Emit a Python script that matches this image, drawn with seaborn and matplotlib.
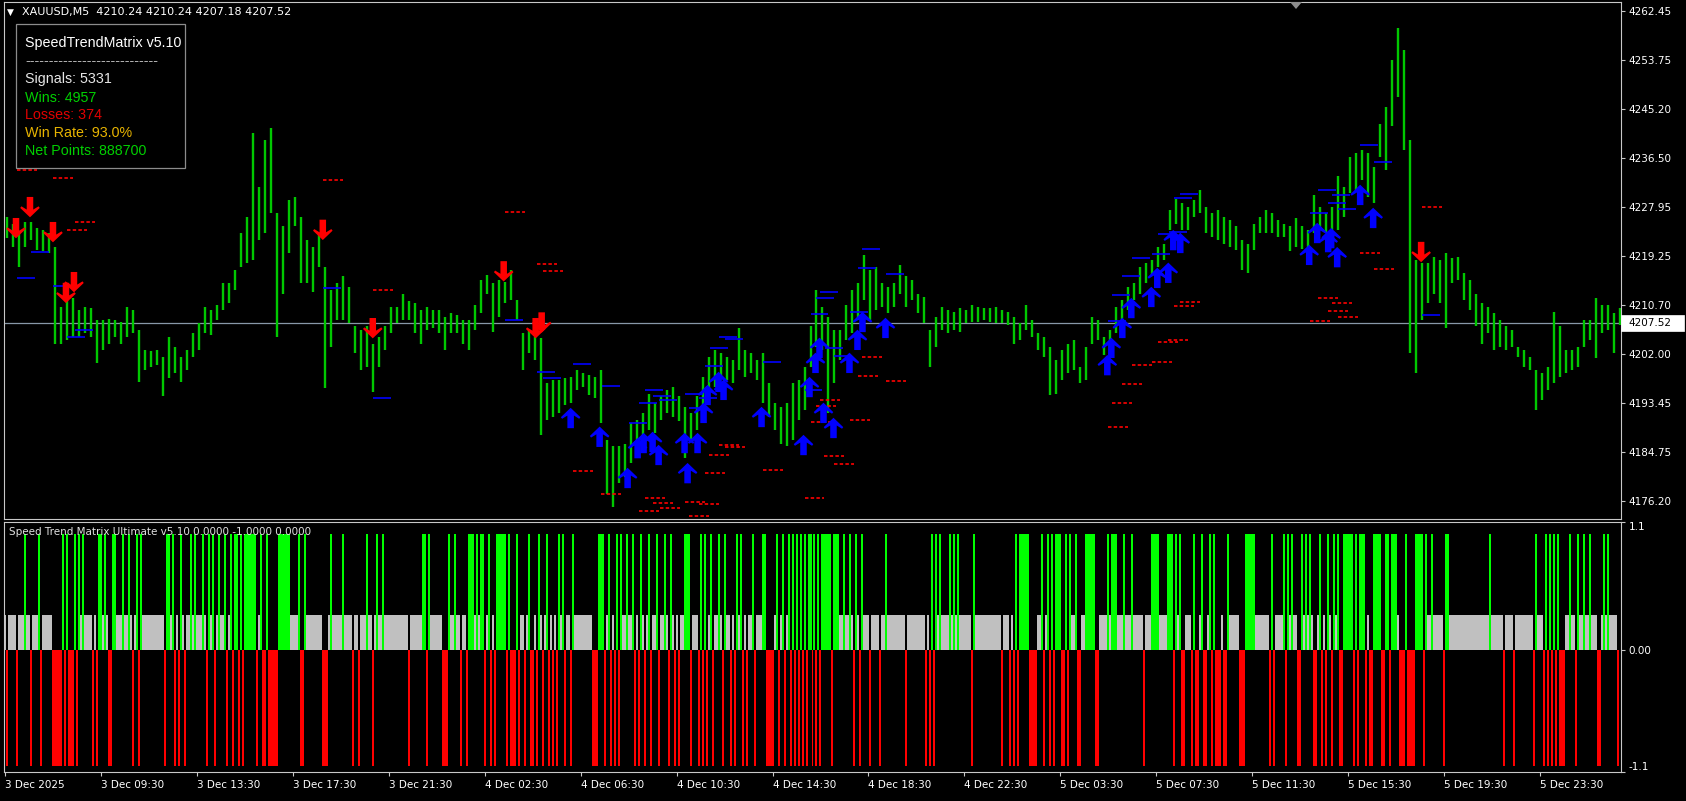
import numpy as np
import matplotlib
matplotlib.use("Agg")
import matplotlib.pyplot as plt
from matplotlib.path import Path
import matplotlib.patches as mpatches
import seaborn as sns

# ---------------- data ----------------
symbol_title = "XAUUSD,M5  4210.24 4210.24 4207.18 4207.52"
last_price = 4207.52

# 15-minute high / low ranges (each entry spans three M5 bars)
highs = [
    4226.2, 4225.0, 4223.3, 4225.3, 4225.3, 4224.2, 4223.9, 4223.3, 4220.9, 4210.4,
    4211.6, 4211.9, 4209.8, 4210.4, 4210.1, 4208.0, 4208.0, 4208.3, 4208.0, 4207.7,
    4210.4, 4209.8, 4206.3, 4202.8, 4202.5, 4202.8, 4201.6, 4205.1, 4203.3, 4201.6,
    4202.8, 4205.7, 4207.5, 4210.4, 4209.8, 4210.7, 4214.5, 4214.5, 4216.8, 4223.3,
    4226.2, 4240.9, 4231.5, 4239.7, 4241.8, 4226.8, 4224.5, 4229.2, 4229.7, 4226.2,
    4222.1, 4220.9, 4223.3, 4217.4, 4213.3, 4214.5, 4215.7, 4213.9, 4206.9, 4206.3,
    4206.9, 4203.9, 4205.1, 4206.9, 4210.4, 4210.4, 4212.7, 4211.3, 4211.0, 4209.8,
    4210.4, 4209.8, 4209.8, 4208.6, 4209.2, 4208.9, 4208.0, 4208.0, 4210.7, 4215.1,
    4216.0, 4214.5, 4215.1, 4214.8, 4216.8, 4211.6, 4205.7, 4206.3, 4205.1, 4204.8,
    4196.9, 4197.5, 4197.5, 4197.8, 4198.1, 4199.2, 4198.7, 4198.4, 4198.1, 4199.2,
    4186.9, 4185.8, 4185.8, 4186.3, 4189.9, 4190.4, 4191.6, 4195.1, 4193.4, 4194.6,
    4195.7, 4196.3, 4194.6, 4192.8, 4191.6, 4194.6, 4198.1, 4201.6, 4202.8, 4202.2,
    4201.6, 4201.0, 4206.6, 4202.8, 4202.2, 4201.0, 4202.2, 4196.9, 4193.4, 4192.8,
    4193.4, 4196.9, 4197.5, 4199.8, 4206.9, 4213.3, 4210.4, 4208.6, 4206.3, 4206.3,
    4210.7, 4213.3, 4214.5, 4219.5, 4216.8, 4217.4, 4214.5, 4213.9, 4214.5, 4217.7,
    4215.7, 4215.1, 4212.7, 4212.1, 4206.3, 4208.6, 4210.4, 4209.8, 4209.5, 4210.1,
    4209.8, 4210.7, 4210.4, 4210.1, 4210.1, 4210.4, 4209.8, 4209.5, 4208.6, 4207.5,
    4210.7, 4208.0, 4205.7, 4205.1, 4203.3, 4201.0, 4202.8, 4203.9, 4204.5, 4199.8,
    4203.3, 4208.6, 4208.0, 4205.1, 4206.3, 4210.4, 4211.6, 4213.9, 4214.5, 4217.4,
    4218.0, 4218.6, 4220.9, 4221.5, 4227.4, 4229.4, 4228.6, 4228.0, 4229.2, 4230.9,
    4228.0, 4226.8, 4227.4, 4226.2, 4225.6, 4224.5, 4222.1, 4221.5, 4225.0, 4226.2,
    4227.4, 4226.8, 4225.6, 4225.0, 4224.5, 4225.9, 4224.5, 4223.9, 4230.0, 4228.0,
    4226.8, 4228.0, 4233.3, 4231.5, 4236.8, 4237.4, 4237.9, 4237.4, 4235.0, 4242.6,
    4245.6, 4253.8, 4259.4, 4255.5, 4239.7, 4218.6, 4218.0, 4218.0, 4219.2, 4218.6,
    4219.8, 4218.9, 4219.2, 4216.3, 4215.1, 4212.7, 4211.0, 4210.4, 4209.2, 4208.0,
    4206.9, 4206.3, 4203.3, 4202.8, 4201.6, 4199.2, 4198.7, 4199.8, 4209.5, 4206.9,
    4202.8, 4202.8, 4203.3, 4208.0, 4208.0, 4211.9, 4210.7, 4210.7, 4209.2, 4210.24,
]
lows = [
    4222.4, 4220.9, 4217.4, 4220.9, 4222.1, 4220.4, 4220.1, 4219.8, 4203.9, 4203.9,
    4204.5, 4205.1, 4205.1, 4205.7, 4205.1, 4200.4, 4202.8, 4203.9, 4205.1, 4203.9,
    4205.1, 4205.7, 4197.2, 4199.2, 4199.8, 4200.1, 4194.6, 4197.8, 4198.7, 4197.2,
    4199.2, 4201.6, 4202.8, 4205.7, 4205.4, 4208.0, 4209.8, 4211.0, 4213.3, 4217.4,
    4218.0, 4218.6, 4222.1, 4223.3, 4226.8, 4205.1, 4212.7, 4219.8, 4224.5, 4214.5,
    4214.5, 4213.0, 4217.4, 4196.0, 4203.3, 4208.0, 4208.0, 4207.5, 4202.2, 4199.2,
    4199.8, 4195.4, 4199.8, 4202.8, 4205.7, 4207.5, 4208.0, 4208.0, 4205.7, 4203.9,
    4206.3, 4206.6, 4205.7, 4202.8, 4205.7, 4205.7, 4203.9, 4202.8, 4206.3, 4209.2,
    4212.7, 4206.0, 4208.6, 4211.0, 4211.6, 4208.0, 4199.2, 4202.2, 4201.0, 4187.8,
    4190.4, 4191.0, 4191.6, 4193.1, 4193.4, 4195.7, 4196.3, 4194.8, 4194.3, 4189.9,
    4177.5, 4175.2, 4179.3, 4180.5, 4182.8, 4185.2, 4187.5, 4188.7, 4188.1, 4190.4,
    4191.6, 4191.0, 4190.2, 4183.7, 4186.9, 4188.7, 4191.0, 4194.6, 4196.3, 4198.1,
    4197.5, 4196.9, 4199.2, 4198.1, 4198.7, 4197.5, 4193.4, 4191.0, 4188.7, 4186.3,
    4185.8, 4186.9, 4190.4, 4192.2, 4199.8, 4203.3, 4202.8, 4191.6, 4196.9, 4201.0,
    4204.5, 4205.7, 4208.0, 4211.6, 4208.0, 4209.8, 4210.4, 4209.2, 4210.4, 4212.7,
    4210.4, 4211.6, 4209.2, 4207.5, 4199.8, 4203.3, 4206.3, 4205.7, 4206.3, 4206.0,
    4207.5, 4207.7, 4207.7, 4208.0, 4207.7, 4207.5, 4207.5, 4207.2, 4203.9, 4204.5,
    4206.3, 4205.1, 4202.8, 4201.6, 4194.8, 4195.1, 4197.5, 4198.7, 4199.2, 4196.9,
    4197.5, 4203.9, 4204.5, 4201.9, 4202.2, 4205.7, 4206.9, 4209.8, 4211.6, 4212.7,
    4214.5, 4215.7, 4217.4, 4218.6, 4223.9, 4225.0, 4223.9, 4223.9, 4226.2, 4226.8,
    4223.3, 4222.7, 4222.1, 4221.5, 4220.9, 4220.4, 4216.8, 4216.3, 4220.4, 4223.3,
    4223.3, 4223.3, 4222.7, 4222.7, 4220.1, 4220.9, 4220.6, 4220.9, 4223.3, 4223.9,
    4223.3, 4223.9, 4223.9, 4226.2, 4230.3, 4230.9, 4232.7, 4229.7, 4228.6, 4236.8,
    4234.4, 4242.1, 4247.3, 4237.9, 4202.2, 4198.8, 4208.0, 4211.0, 4212.7, 4211.0,
    4206.6, 4214.5, 4215.1, 4211.6, 4209.8, 4206.9, 4203.9, 4205.7, 4202.8, 4203.3,
    4202.8, 4203.3, 4201.6, 4199.8, 4199.2, 4192.2, 4194.0, 4195.7, 4196.9, 4198.1,
    4198.7, 4199.2, 4199.8, 4203.3, 4204.5, 4201.3, 4205.7, 4206.3, 4202.2, 4207.18,
]
bars_per_entry = 3
n_bars = 808

# sell / buy signal arrows (bar index, price)
sell_bar = [5.5, 12.5, 24, 30.5, 34.5, 159, 184, 249.5, 265.5, 268.5, 708.5]
sell_price = [4224.2, 4227.9, 4223.5, 4212.8, 4214.7, 4223.9, 4206.6, 4216.6, 4206.6, 4207.6, 4220.0]
buy_bar = [283, 297.5, 311.5, 316.5, 319.5, 324, 327, 340, 341.5, 346.5,
           349.5, 351.5, 357, 359.5, 378.5, 399.5, 402.5, 405.5, 407.5, 409.5,
           414.5, 422.5, 426.5, 429, 440.5, 551.5, 553.5, 559, 563.5, 573.5,
           576.5, 582, 584.5, 588, 652.5, 656.5, 662, 663.5, 666.5, 678, 684.5]
buy_price = [4190.8, 4187.5, 4180.25, 4185.5, 4186.4, 4186.6, 4184.3, 4186.4, 4181.1, 4186.4,
             4191.7, 4194.85, 4197.15, 4195.75, 4190.98, 4186.05, 4196.25, 4200.5, 4203.15, 4191.7,
             4189.05, 4200.5, 4204.55, 4207.7, 4206.65, 4200.1, 4203.15, 4206.65, 4210.15, 4212.1,
             4215.45, 4216.35, 4222.1, 4221.6, 4219.5, 4223.35, 4221.75, 4222.45, 4219.1, 4230.05, 4226.0]

# take-profit (blue) and stop-loss (red dashed) level segments
tp_bar = [6, 13, 24, 31, 35, 159, 184, 250, 266, 269, 284, 298.5, 312, 317, 320, 324, 327,
          340, 342, 347, 350, 352.5, 357, 360, 379, 400, 403, 406, 408, 410.5, 415, 423,
          427, 429, 441, 552, 554, 559, 564, 574, 577, 582.5, 585, 588, 653, 657, 662,
          664, 667, 678, 685, 709]
tp_price = [4215.4, 4220.0, 4214.0, 4205.05, 4206.3, 4213.7, 4194.3, 4208.0, 4198.9, 4197.8,
            4200.3, 4196.4, 4189.9, 4193.4, 4195.7, 4194.7, 4194.0, 4195.0, 4192.6, 4194.3,
            4199.95, 4203.1, 4205.05, 4204.7, 4200.65, 4195.7, 4209.1, 4211.9, 4213.0, 4203.1,
            4201.7, 4209.45, 4217.2, 4220.5, 4216.1, 4207.9, 4212.4, 4215.8, 4218.95, 4219.65,
            4223.2, 4223.5, 4229.5, 4230.2, 4226.9, 4230.9, 4228.6, 4230.0, 4227.6, 4238.8,
            4235.8, 4208.9]
sl_bar = [6, 24, 31, 35, 159, 184, 250, 266, 269, 284, 298, 317, 320, 324, 327.5, 340, 342,
          347, 350, 352, 357, 360, 379, 400, 403, 406, 408, 410, 415, 423, 427, 429, 441,
          552, 554, 559, 564, 574, 577, 582, 585, 588, 653, 657, 662, 664, 667, 678, 685, 709]
sl_price = [4234.4, 4233.0, 4223.9, 4225.3, 4232.7, 4213.3, 4227.0, 4217.9, 4216.7, 4181.5,
            4177.4, 4174.4, 4176.7, 4175.85, 4175.0, 4176.0, 4173.6, 4175.7, 4181.1, 4184.3,
            4186.05, 4185.7, 4181.65, 4176.7, 4190.1, 4192.9, 4194.0, 4184.1, 4182.7, 4190.45,
            4198.2, 4201.5, 4197.3, 4189.2, 4193.4, 4196.8, 4200.1, 4200.65, 4204.2, 4204.5,
            4210.5, 4211.2, 4207.9, 4211.9, 4209.6, 4211.0, 4208.6, 4219.8, 4217.0, 4227.9]
tp_len = 9
sl_len = 10

price_ticks = [4262.45, 4253.75, 4245.20, 4236.50, 4227.95, 4219.25, 4210.70,
               4202.00, 4193.45, 4184.75, 4176.20]

time_tick_bars = [0, 48, 96, 144, 192, 240, 288, 336, 384, 432, 480, 528, 576, 624, 672, 720, 768]
time_labels = ["3 Dec 2025", "3 Dec 09:30", "3 Dec 13:30", "3 Dec 17:30", "3 Dec 21:30",
               "4 Dec 02:30", "4 Dec 06:30", "4 Dec 10:30", "4 Dec 14:30", "4 Dec 18:30",
               "4 Dec 22:30", "5 Dec 03:30", "5 Dec 07:30", "5 Dec 11:30", "5 Dec 15:30",
               "5 Dec 19:30", "5 Dec 23:30"]

# indicator histogram states
green_bars = [10, 17, 29, 31, 35, 37, 39, 47, 48, 50, 54, 55, 59, 62, 66, 68, 81, 82, 84, 88,
              93, 95, 99, 102, 104, 107, 110, 113, 115, 116, 118, 120, 121, 122, 123, 124, 125,
              128, 131, 137, 138, 139, 140, 141, 142, 147, 150, 163, 169, 181, 186, 189, 209,
              210, 212, 222, 225, 232, 233, 234, 236, 238, 239, 242, 246, 247, 248, 249, 250,
              252, 256, 262, 267, 271, 277, 279, 284, 297, 298, 299, 302, 306, 308, 311, 314,
              318, 322, 326, 330, 333, 340, 341, 342, 348, 350, 353, 357, 360, 366, 368, 374,
              379, 380, 386, 389, 392, 394, 396, 398, 400, 402, 403, 405, 407, 409, 410, 411,
              412, 413, 415, 416, 417, 420, 423, 426, 429, 441, 464, 466, 468, 473, 475, 477,
              485, 506, 508, 509, 510, 511, 512, 519, 522, 524, 526, 527, 528, 531, 533, 536,
              541, 542, 543, 544, 545, 552, 554, 555, 556, 560, 564, 574, 575, 576, 577, 582,
              583, 584, 586, 588, 595, 599, 603, 605, 612, 621, 622, 623, 624, 625, 634, 640,
              642, 644, 649, 651, 653, 658, 662, 665, 667, 670, 671, 672, 673, 674, 676, 678,
              679, 680, 685, 686, 687, 688, 691, 692, 694, 695, 696, 701, 706, 707, 708, 709,
              711, 714, 721, 722, 743, 766, 771, 773, 775, 777, 783, 787, 790, 793, 800, 802]
red_bars = [1, 6, 13, 18, 24, 25, 26, 27, 28, 30, 32, 33, 34, 36, 44, 46, 52, 53, 64, 67, 80,
            85, 87, 90, 101, 105, 111, 114, 117, 119, 126, 129, 130, 132, 133, 134, 135, 136,
            148, 149, 159, 160, 161, 174, 177, 184, 202, 211, 219, 220, 221, 228, 231, 240,
            243, 245, 251, 253, 254, 255, 257, 260, 263, 264, 266, 269, 272, 274, 276, 280,
            283, 294, 295, 296, 300, 303, 305, 307, 315, 317, 320, 323, 327, 332, 335, 337,
            343, 347, 349, 351, 354, 359, 363, 365, 369, 371, 375, 381, 382, 383, 384, 387,
            390, 393, 395, 397, 399, 401, 404, 406, 408, 414, 425, 428, 433, 438, 451, 461,
            463, 465, 484, 499, 503, 505, 507, 513, 514, 515, 516, 520, 523, 525, 529, 530,
            532, 537, 538, 546, 547, 570, 585, 589, 590, 594, 596, 597, 600, 601, 604, 606,
            607, 608, 610, 611, 618, 619, 620, 633, 635, 641, 647, 648, 655, 656, 659, 661,
            664, 668, 669, 675, 677, 681, 683, 684, 689, 690, 693, 698, 699, 700, 702, 703,
            704, 705, 710, 720, 750, 755, 765, 770, 772, 774, 776, 778, 779, 780, 786, 797,
            798, 807]
level_up = 1.0
level_down = -1.0
level_flat = 0.3

info_lines = ["SpeedTrendMatrix v5.10", "----------------------------", "Signals: 5331",
              "Wins: 4957", "Losses: 374", "Win Rate: 93.0%", "Net Points: 888700"]
info_colors = ["#ffffff", "#b4b4b4", "#e6e6e6", "#00d000", "#e00000", "#e8b400", "#00d000"]
indicator_title = "Speed Trend Matrix Ultimate v5.10 0.0000 -1.0000 0.0000"

# ---------------- styling ----------------
sns.set_theme(style="ticks", rc={
    "axes.facecolor": "black", "figure.facecolor": "black", "savefig.facecolor": "black",
    "axes.edgecolor": "#c8c8c8", "text.color": "white",
    "xtick.color": "#c8c8c8", "ytick.color": "#c8c8c8",
})
plt.rcParams["font.family"] = ["DejaVu Sans"]
plt.rcParams["lines.scale_dashes"] = False

W, H = 1686, 801
fig = plt.figure(figsize=(W / 100, H / 100), dpi=100)


def fx(px):
    return px / W


def fy(py):
    return 1 - py / H


ax1 = fig.add_axes([fx(4), fy(519), fx(1621) - fx(4), fy(2) - fy(519)])
ax2 = fig.add_axes([fx(4), fy(772), fx(1621) - fx(4), fy(522) - fy(772)])

for ax in (ax1, ax2):
    ax.set_facecolor("black")
    for sp in ax.spines.values():
        sp.set_color("#c8c8c8")
        sp.set_linewidth(0.8)

# ---- price panel ----
bar_x = np.arange(len(highs)) * bars_per_entry + 1
ax1.vlines(bar_x, lows, highs, colors="#00c800", lw=1.7, zorder=2)
ax1.axhline(last_price, color="#8898a8", lw=0.9, zorder=1)

ax1.hlines(tp_price, tp_bar, np.array(tp_bar) + tp_len, colors="#0000ff", lw=1.2, zorder=3)
ax1.hlines(sl_price, sl_bar, np.array(sl_bar) + sl_len, colors="#ff0000", lw=1.2,
           linestyles=[(0, (2.5, 1.6))], zorder=3)

up_verts = [(0, 0.5), (0.48, 0.04), (0.42, -0.04), (0.16, 0.12), (0.16, -0.5),
            (-0.16, -0.5), (-0.16, 0.12), (-0.42, -0.04), (-0.48, 0.04), (0, 0.5)]
codes = [Path.MOVETO] + [Path.LINETO] * (len(up_verts) - 2) + [Path.CLOSEPOLY]
up_arrow = Path(up_verts, codes)
down_arrow = Path([(x, -y) for x, y in up_verts], codes)

sns.scatterplot(x=buy_bar, y=buy_price, marker=up_arrow, s=215, color="#0000ff",
                edgecolor="none", linewidth=0, ax=ax1, zorder=5)
sns.scatterplot(x=sell_bar, y=sell_price, marker=down_arrow, s=215, color="#ff0000",
                edgecolor="none", linewidth=0, ax=ax1, zorder=5)

ax1.set_xlim(-0.5, 808.5)
ax1.set_ylim(4173.03, 4263.99)
ax1.set_xticks([])
ax1.yaxis.tick_right()
ax1.set_yticks(price_ticks)
ax1.set_yticklabels([f"{v:.2f}" for v in price_ticks])
ax1.tick_params(axis="y", colors="#c8c8c8", labelcolor="white", length=3, width=0.8,
                pad=2.5, labelsize=7.5, direction="out", left=False, right=True)
ax1.set_xlabel("")
ax1.set_ylabel("")

# ---- indicator panel ----
idx = np.arange(n_bars)
is_g = np.isin(idx, green_bars)
is_r = np.isin(idx, red_bars)
is_n = ~(is_g | is_r)
ax2.bar(idx[is_n], level_flat, width=1.0, color="#c0c0c0", linewidth=0, zorder=2,
        antialiased=False)
ax2.bar(idx[is_g], level_up, width=1.0, color="#00ff00", linewidth=0, zorder=3,
        antialiased=False)
ax2.bar(idx[is_r], level_down, width=1.0, color="#ff0000", linewidth=0, zorder=3,
        antialiased=False)
ax2.set_xlim(-0.5, 808.5)
ax2.set_ylim(-1.05, 1.1)
ax2.yaxis.tick_right()
ax2.set_yticks([1.1, 0.0, -1.05])
ax2.set_yticklabels(["1.1", "0.00", "-1.1"])
ax2.tick_params(axis="y", colors="#c8c8c8", labelcolor="white", length=3, width=0.8,
                pad=2.5, labelsize=7.5, left=False, right=True)
ylabs = ax2.get_yticklabels()
ylabs[0].set_va("top")
ylabs[2].set_va("bottom")
ax2.set_xticks(time_tick_bars)
ax2.set_xticklabels(time_labels, ha="left")
ax2.tick_params(axis="x", colors="#c8c8c8", labelcolor="white", length=3, width=0.8,
                pad=3, labelsize=7.5, bottom=True)

# ---- overlay texts ----
fig.text(fx(7), fy(12), "\u25bc", color="white", fontsize=6.5, va="center", ha="left")
fig.text(fx(22), fy(12), symbol_title, color="white", fontsize=8, va="center", ha="left")

box = mpatches.Rectangle((fx(15.5), fy(167.5)), fx(184.5) - fx(15.5), fy(23.5) - fy(167.5),
                         transform=fig.transFigure, facecolor="black", edgecolor="#8c8c8c",
                         lw=0.9, zorder=4)
fig.patches.append(box)
baselines = [47.5, 65.5, 83.3, 101.5, 119.3, 137.3, 155.3]
for s, c, b in zip(info_lines, info_colors, baselines):
    fig.text(fx(25), fy(b), s, color=c, fontsize=10.3, family=["Liberation Sans", "DejaVu Sans"],
             va="baseline", ha="left", zorder=5)

fig.text(fx(9), fy(532), indicator_title, color="#e0e0e0", fontsize=7.5, va="center", ha="left")

price_box = mpatches.Rectangle((fx(1621), fy(330.5)), fx(1684) - fx(1621), fy(315.5) - fy(330.5),
                               transform=fig.transFigure, facecolor="white", edgecolor="white",
                               lw=0.5, zorder=4)
fig.patches.append(price_box)
fig.text(fx(1628), fy(323), f"{last_price:.2f}", color="black", fontsize=7.5,
         va="center", ha="left", zorder=5)

shift_mark = mpatches.Polygon([(fx(1290), fy(2)), (fx(1302), fy(2)), (fx(1296), fy(9))],
                              closed=True, transform=fig.transFigure, facecolor="#8c8c8c",
                              edgecolor="none", zorder=4)
fig.patches.append(shift_mark)

fig.savefig("out.png", dpi=100, facecolor="black")
